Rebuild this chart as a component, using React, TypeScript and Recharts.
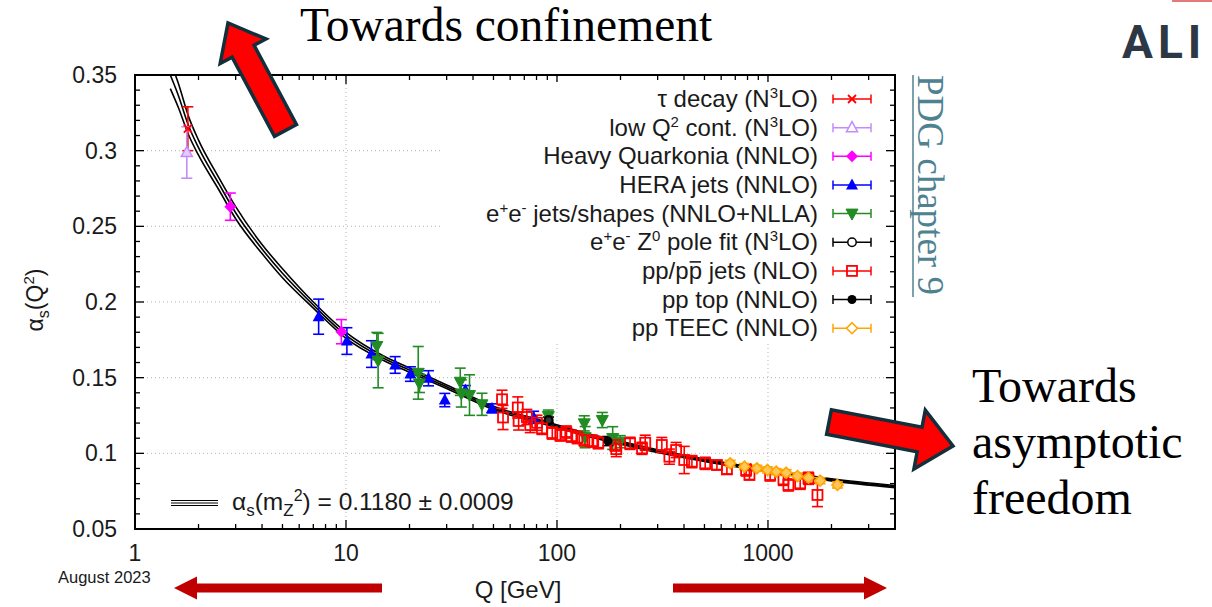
import React from 'react';
import { ComposedChart, Scatter, Line, XAxis, YAxis, ErrorBar, ReferenceLine } from 'recharts';

const FONT = '"Liberation Sans", Arial, Helvetica, sans-serif';
const SERIF = '"Liberation Serif", "Times New Roman", serif';

const RED = '#ff0000';
const LILAC = '#c08cff';
const MAGENTA = '#ff00ff';
const BLUE = '#0000ff';
const GREEN = '#228b22';
const BLACK = '#000000';
const ORANGE = '#ffa500';

// measurements, each row: [Q in GeV, alpha_s, error]
const TAU_DECAY = [[1.78, 0.3145, 0.0145]];
const LOW_Q2_CONT = [[1.76, 0.2988, 0.017]];
const HEAVY_QUARKONIA = [[2.83, 0.263, 0.009], [9.51, 0.1804, 0.008]];
const HERA_JETS = [
  [7.42, 0.1903, 0.0116], [10.1, 0.1742, 0.0088], [13.2, 0.1656, 0.0088], [17.1, 0.1584, 0.0055],
  [20.2, 0.1524, 0.0048], [24.6, 0.1496, 0.005], [29.4, 0.1352, 0.0044], [36.8, 0.1418, 0.003],
  [49.2, 0.1297, 0.003], [77.5, 0.1238, 0.004],
];
const EE_JETS_SHAPES = [
  [14.0, 0.1709, 0.009], [14.2, 0.1613, 0.018], [22.0, 0.1532, 0.0174], [22.3, 0.1462, 0.006],
  [34.8, 0.1473, 0.009], [35.2, 0.1396, 0.009], [38.5, 0.1385, 0.0134], [44.1, 0.1324, 0.0073],
  [91.0, 0.1246, 0.004], [134.7, 0.1198, 0.005], [136, 0.1107, 0.007], [164, 0.122, 0.005],
  [183.7, 0.1101, 0.0075], [199.5, 0.1077, 0.004],
];
const Z_POLE_FIT = [[91.2, 0.122, 0.002]];
const PP_JETS = [
  [54.9, 0.1357, 0.006], [55.5, 0.1237, 0.008], [65.2, 0.1303, 0.007], [65.8, 0.1214, 0.006],
  [72, 0.124, 0.005], [74.7, 0.1187, 0.005], [80.4, 0.1202, 0.005], [84.9, 0.1165, 0.004],
  [95, 0.1134, 0.004], [103.7, 0.1121, 0.004], [110.7, 0.1141, 0.004], [117, 0.1114, 0.004],
  [124.8, 0.1104, 0.004], [134.7, 0.1088, 0.004], [147, 0.1081, 0.004], [157, 0.107, 0.004],
  [188.8, 0.1055, 0.004], [191, 0.1028, 0.005], [222, 0.1066, 0.004], [253, 0.1033, 0.004],
  [262, 0.107, 0.005], [314, 0.1055, 0.005], [341, 0.0978, 0.005], [367, 0.1022, 0.005],
  [401, 0.0956, 0.009], [436, 0.0945, 0.004], [504, 0.0934, 0.004], [573, 0.0923, 0.003],
  [639, 0.0894, 0.003], [788, 0.089, 0.004], [817, 0.0857, 0.003], [1024, 0.0857, 0.004],
  [1184, 0.0828, 0.004], [1250, 0.0791, 0.004], [1421, 0.0802, 0.004], [1556, 0.0835, 0.004],
  [1716, 0.0725, 0.0077],
];
const PP_TOP = [[174.5, 0.1081, 0.003]];
const PP_TEEC = [
  [662, 0.0934, 0.002], [774, 0.0912, 0.002], [886, 0.0901, 0.002], [995, 0.089, 0.002],
  [1094, 0.0879, 0.002], [1220, 0.0872, 0.002], [1380, 0.085, 0.002], [1556, 0.0839, 0.002],
  [1767, 0.0819, 0.002], [2134, 0.0791, 0.002],
];

// world average running band
const CURVE_Q = [1.47, 1.6, 1.8, 2.0, 2.5, 3.0, 4.0, 5.0, 7.0, 10, 15, 20, 30, 50, 91, 150, 200, 300, 500, 1000, 2000, 4000];
const CURVE_MID = [0.35, 0.337, 0.316, 0.302, 0.278, 0.259, 0.235, 0.219, 0.198, 0.178, 0.163, 0.155, 0.144, 0.13, 0.1195, 0.111, 0.107, 0.1015, 0.0955, 0.0886, 0.0825, 0.078];
const CURVE_UP = [0.359, 0.345, 0.322, 0.307, 0.282, 0.263, 0.238, 0.222, 0.2, 0.18, 0.1645, 0.1564, 0.1452, 0.1311, 0.1205, 0.1119, 0.1079, 0.1024, 0.0963, 0.0893, 0.0832, 0.0787];
const CURVE_LO = [0.341, 0.329, 0.31, 0.297, 0.274, 0.255, 0.232, 0.216, 0.196, 0.176, 0.1615, 0.1536, 0.1428, 0.1289, 0.1185, 0.1101, 0.1061, 0.1006, 0.0947, 0.0879, 0.0818, 0.0773];

const X_MAJOR = [1, 10, 100, 1000];
const X_TICKS = [1, 2, 3, 4, 5, 6, 7, 8, 9, 10, 20, 30, 40, 50, 60, 70, 80, 90, 100, 200, 300, 400, 500, 600, 700, 800, 900, 1000, 2000, 3000];
const Y_MAJOR = [0.05, 0.1, 0.15, 0.2, 0.25, 0.3, 0.35];
const Y_TICKS = [
  0.05, 0.06, 0.07, 0.08, 0.09, 0.1, 0.11, 0.12, 0.13, 0.14, 0.15, 0.16, 0.17, 0.18, 0.19, 0.2,
  0.21, 0.22, 0.23, 0.24, 0.25, 0.26, 0.27, 0.28, 0.29, 0.3, 0.31, 0.32, 0.33, 0.34, 0.35,
];
const GRID_X = [10, 100, 1000];
const GRID_Y = [0.1, 0.15, 0.2, 0.25, 0.3];

const PLOT = { left: 135, right: 895, top: 75, bottom: 529 };
const LEG_FS = 24;

const pts = (rows: number[][]) => rows.map(([q, a, e]) => ({ q, a, e }));
const curve = (vals: number[]) => CURVE_Q.map((q, i) => ({ q, a: vals[i] }));

function Marker({ kind, color, cx, cy, legend }: { kind: string; color: string; cx: number; cy: number; legend?: boolean }) {
  switch (kind) {
    case 'cross':
      return (
        <g stroke={color} strokeWidth={1.8}>
          <line x1={cx - 4} y1={cy - 4} x2={cx + 4} y2={cy + 4} />
          <line x1={cx - 4} y1={cy + 4} x2={cx + 4} y2={cy - 4} />
        </g>
      );
    case 'triOpen':
      return <polygon points={`${cx},${cy - 6} ${cx + 5.5},${cy + 4} ${cx - 5.5},${cy + 4}`} fill={legend ? '#fff' : '#e2ccff'} stroke={color} strokeWidth={1.5} />;
    case 'diamond':
      return <polygon points={`${cx},${cy - 6} ${cx + 6},${cy} ${cx},${cy + 6} ${cx - 6},${cy}`} fill={color} />;
    case 'triUp':
      return <polygon points={`${cx},${cy - 6.5} ${cx + 6},${cy + 4.5} ${cx - 6},${cy + 4.5}`} fill={color} />;
    case 'triDown':
      return <polygon points={`${cx},${cy + 6.5} ${cx + 6},${cy - 4.5} ${cx - 6},${cy - 4.5}`} fill={color} stroke={color} strokeWidth={1} />;
    case 'circleOpen':
      return legend
        ? <circle cx={cx} cy={cy} r={4.2} fill="#fff" stroke={color} strokeWidth={1.5} />
        : <circle cx={cx} cy={cy} r={4} fill="#333" stroke={color} strokeWidth={2.2} />;
    case 'square':
      return <rect x={cx - 5} y={cy - 5} width={10} height={10} fill="none" stroke={color} strokeWidth={1.8} />;
    case 'circle':
      return <circle cx={cx} cy={cy} r={4.5} fill={color} />;
    case 'diamondOpen':
    default:
      return <polygon points={`${cx},${cy - 5.5} ${cx + 5.5},${cy} ${cx},${cy + 5.5} ${cx - 5.5},${cy}`} fill={legend ? '#fff' : '#ffc65a'} stroke={color} strokeWidth={1.6} />;
  }
}

const shapeOf = (kind: string, color: string) => (p: any) => <Marker kind={kind} color={color} cx={p.cx} cy={p.cy} />;

function XTick(p: any) {
  const v = p.payload.value;
  const x = p.x;
  const major = X_MAJOR.includes(v);
  const len = major ? 9 : 5;
  return (
    <g>
      <line x1={x} x2={x} y1={PLOT.bottom} y2={PLOT.bottom - len} stroke="#000" strokeWidth={1.3} />
      <line x1={x} x2={x} y1={PLOT.top} y2={PLOT.top + len} stroke="#000" strokeWidth={1.3} />
      {major && (
        <text x={x} y={PLOT.bottom + 32} textAnchor="middle" fontSize={23} fontFamily={FONT} fill="#1a1a1a">
          {String(v)}
        </text>
      )}
    </g>
  );
}

function YTick(p: any) {
  const v = p.payload.value;
  const y = p.y;
  const major = Y_MAJOR.some((m) => Math.abs(m - v) < 1e-6);
  const len = major ? 9 : 5;
  return (
    <g>
      <line x1={PLOT.left} x2={PLOT.left + len} y1={y} y2={y} stroke="#000" strokeWidth={1.3} />
      <line x1={PLOT.right - len} x2={PLOT.right} y1={y} y2={y} stroke="#000" strokeWidth={1.3} />
      {major && (
        <text x={117} y={y + 8} textAnchor="end" fontSize={23} fontFamily={FONT} fill="#1a1a1a">
          {String(v)}
        </text>
      )}
    </g>
  );
}

const SERIES = [
  { key: 'tau', rows: TAU_DECAY, kind: 'cross', color: RED },
  { key: 'lowq2', rows: LOW_Q2_CONT, kind: 'triOpen', color: LILAC },
  { key: 'hq', rows: HEAVY_QUARKONIA, kind: 'diamond', color: MAGENTA },
  { key: 'hera', rows: HERA_JETS, kind: 'triUp', color: BLUE },
  { key: 'ee', rows: EE_JETS_SHAPES, kind: 'triDown', color: GREEN },
  { key: 'z', rows: Z_POLE_FIT, kind: 'circleOpen', color: BLACK },
  { key: 'ppjets', rows: PP_JETS, kind: 'square', color: RED },
  { key: 'top', rows: PP_TOP, kind: 'circle', color: BLACK },
  { key: 'teec', rows: PP_TEEC, kind: 'diamondOpen', color: ORANGE },
];

const SUP = { dy: -9, fontSize: 15 };

const LEGEND_LABELS = [
  <>τ decay (N<tspan {...SUP}>3</tspan><tspan dy={9}>LO)</tspan></>,
  <>low Q<tspan {...SUP}>2</tspan><tspan dy={9}> cont. (N</tspan><tspan {...SUP}>3</tspan><tspan dy={9}>LO)</tspan></>,
  <>Heavy Quarkonia (NNLO)</>,
  <>HERA jets (NNLO)</>,
  <>e<tspan {...SUP}>+</tspan><tspan dy={9}>e</tspan><tspan {...SUP}>-</tspan><tspan dy={9}> jets/shapes (NNLO+NLLA)</tspan></>,
  <>e<tspan {...SUP}>+</tspan><tspan dy={9}>e</tspan><tspan {...SUP}>-</tspan><tspan dy={9}> Z</tspan><tspan {...SUP}>0</tspan><tspan dy={9}> pole fit (N</tspan><tspan {...SUP}>3</tspan><tspan dy={9}>LO)</tspan></>,
  <>pp/pp jets (NLO)</>,
  <>pp top (NNLO)</>,
  <>pp TEEC (NNLO)</>,
];

function arrowPoints(tx: number, ty: number, hx: number, hy: number, sw: number, hw: number, hl: number) {
  const dx = hx - tx;
  const dy = hy - ty;
  const L = Math.hypot(dx, dy);
  const ux = dx / L;
  const uy = dy / L;
  const px = -uy;
  const py = ux;
  const bx = hx - ux * hl;
  const by = hy - uy * hl;
  const p = [
    [tx + (px * sw) / 2, ty + (py * sw) / 2],
    [bx + (px * sw) / 2, by + (py * sw) / 2],
    [bx + (px * hw) / 2, by + (py * hw) / 2],
    [hx, hy],
    [bx - (px * hw) / 2, by - (py * hw) / 2],
    [bx - (px * sw) / 2, by - (py * sw) / 2],
    [tx - (px * sw) / 2, ty - (py * sw) / 2],
  ];
  return p.map((c) => c.map((n) => n.toFixed(1)).join(',')).join(' ');
}

export default function App() {
  const rowY = (i: number) => 99 + i * 28.65;
  // width of " jets (NLO)" and "p" in Liberation Sans, for the anti-proton bar
  const barRight = 818 - 4.834 * LEG_FS - 1;
  const barLeft = barRight - 0.556 * LEG_FS + 2;
  return (
    <div style={{ position: 'absolute', left: 0, top: 0, width: 1212, height: 607, overflow: 'hidden', background: '#fff' }}>
      <div style={{ position: 'absolute', left: 0, top: 0 }}>
        <ComposedChart width={1212} height={607} margin={{ top: 75, right: 317, bottom: 48, left: 0 }}>
          {GRID_X.map((v) => (
            <ReferenceLine key={'gx' + v} x={v} stroke="#b4b4b4" strokeDasharray="1 3" />
          ))}
          {GRID_Y.map((v) => (
            <ReferenceLine key={'gy' + v} y={v} stroke="#b4b4b4" strokeDasharray="1 3" />
          ))}
          <XAxis
            dataKey="q"
            type="number"
            scale="log"
            domain={[1, 4000]}
            allowDataOverflow
            ticks={X_TICKS}
            interval={0}
            tick={XTick}
            tickLine={false}
            axisLine={false}
            height={30}
          />
          <YAxis
            dataKey="a"
            type="number"
            domain={[0.05, 0.35]}
            allowDataOverflow
            ticks={Y_TICKS}
            interval={0}
            tick={YTick}
            tickLine={false}
            axisLine={false}
            width={135}
          />
          <Line data={curve(CURVE_UP)} dataKey="a" type="monotone" stroke="#000" strokeWidth={1.6} dot={false} isAnimationActive={false} />
          <Line data={curve(CURVE_MID)} dataKey="a" type="monotone" stroke="#000" strokeWidth={1.6} dot={false} isAnimationActive={false} />
          <Line data={curve(CURVE_LO)} dataKey="a" type="monotone" stroke="#000" strokeWidth={1.6} dot={false} isAnimationActive={false} />
          {SERIES.map((s) => (
            <Scatter key={s.key} data={pts(s.rows)} dataKey="a" shape={shapeOf(s.kind, s.color)} isAnimationActive={false}>
              <ErrorBar dataKey="e" direction="y" width={5.5} stroke={s.color} strokeWidth={1.6} />
            </Scatter>
          ))}
        </ComposedChart>
      </div>
      <svg width={1212} height={607} style={{ position: 'absolute', left: 0, top: 0, pointerEvents: 'none' }}>
        {/* key box */}
        <rect x={443} y={82} width={442} height={262} fill="#fff" />
        {LEGEND_LABELS.map((lab, i) => {
          const y = rowY(i);
          const s = SERIES[i];
          return (
            <g key={'lg' + i}>
              <text x={818} y={y + 8} textAnchor="end" fontSize={LEG_FS} fontFamily={FONT} fill="#1a1a1a" style={{ whiteSpace: 'pre' }}>
                {lab}
              </text>
              <g stroke={s.color} strokeWidth={1.5}>
                <line x1={833} x2={871} y1={y} y2={y} />
                <line x1={833} x2={833} y1={y - 4.5} y2={y + 4.5} />
                <line x1={871} x2={871} y1={y - 4.5} y2={y + 4.5} />
              </g>
              <Marker kind={s.kind} color={s.color} cx={852} cy={y} legend />
            </g>
          );
        })}
        <line x1={barLeft} x2={barRight} y1={rowY(6) - 9} y2={rowY(6) - 9} stroke="#1a1a1a" strokeWidth={1.6} />
        <rect x={PLOT.left} y={PLOT.top} width={PLOT.right - PLOT.left} height={PLOT.bottom - PLOT.top} fill="none" stroke="#000" strokeWidth={2} />

        {/* world average label */}
        <g stroke="#000" strokeWidth={1.2}>
          <line x1={171} x2={218} y1={500.5} y2={500.5} />
          <line x1={171} x2={218} y1={503} y2={503} />
          <line x1={171} x2={218} y1={505.5} y2={505.5} />
        </g>
        <text x={232} y={510} fontSize={24.5} fontFamily={FONT} fill="#1a1a1a" style={{ whiteSpace: 'pre' }}>
          α<tspan dy={6} fontSize={17}>s</tspan><tspan dy={-6}>(m</tspan><tspan dy={6} fontSize={17}>Z</tspan>
          <tspan dy={-15} fontSize={16}>2</tspan><tspan dy={9}>) = 0.1180 ± 0.0009</tspan>
        </text>

        {/* axis titles */}
        <text transform="translate(43,300) rotate(-90)" textAnchor="middle" fontSize={23} fontFamily={FONT} fill="#1a1a1a">
          α<tspan dy={6} fontSize={16}>s</tspan><tspan dy={-6}>(Q</tspan><tspan dy={-9} fontSize={15}>2</tspan><tspan dy={9}>)</tspan>
        </text>
        <text x={518} y={598} textAnchor="middle" fontSize={24} fontFamily={FONT} fill="#1a1a1a">Q [GeV]</text>
        <text x={58} y={583} fontSize={16.5} fontFamily={FONT} fill="#1a1a1a">August 2023</text>

        {/* annotations */}
        <text x={300} y={41} fontSize={47.5} fontFamily={SERIF} fill="#000">Towards confinement</text>
        <text x={972} y={402} fontSize={48} fontFamily={SERIF} fill="#000">Towards</text>
        <text x={972} y={458} fontSize={48} fontFamily={SERIF} fill="#000">asymptotic</text>
        <text x={972} y={514} fontSize={48} fontFamily={SERIF} fill="#000">freedom</text>
        <text transform="translate(918,75) rotate(90)" fontSize={37} fontFamily={SERIF} fill="#4f8291">PDG chapter 9</text>
        <line x1={913} x2={913} y1={75} y2={297} stroke="#4f8291" strokeWidth={1.5} />
        <rect x={1172} y={0} width={40} height={2} fill="#e37a7a" />
        <text x={1122} y={58} fontSize={46} fontFamily="Roboto, sans-serif" fontWeight={700} fill="#2c3843">
          A<tspan dx={5}>L</tspan><tspan dx={5}>I</tspan>
        </text>

        <polygon points={arrowPoints(285.5, 130.5, 228, 23, 25, 52, 32)} fill="#ff0000" stroke="#12303b" strokeWidth={3.5} strokeLinejoin="miter" />
        <polygon points={arrowPoints(829, 422, 953, 446, 25, 60, 34)} fill="#ff0000" stroke="#12303b" strokeWidth={3.5} strokeLinejoin="miter" />
        <polygon points={arrowPoints(382, 588, 174, 588, 9, 23, 23)} fill="#c00000" />
        <polygon points={arrowPoints(673, 588, 887, 588, 9, 23, 23)} fill="#c00000" />
      </svg>
    </div>
  );
}
